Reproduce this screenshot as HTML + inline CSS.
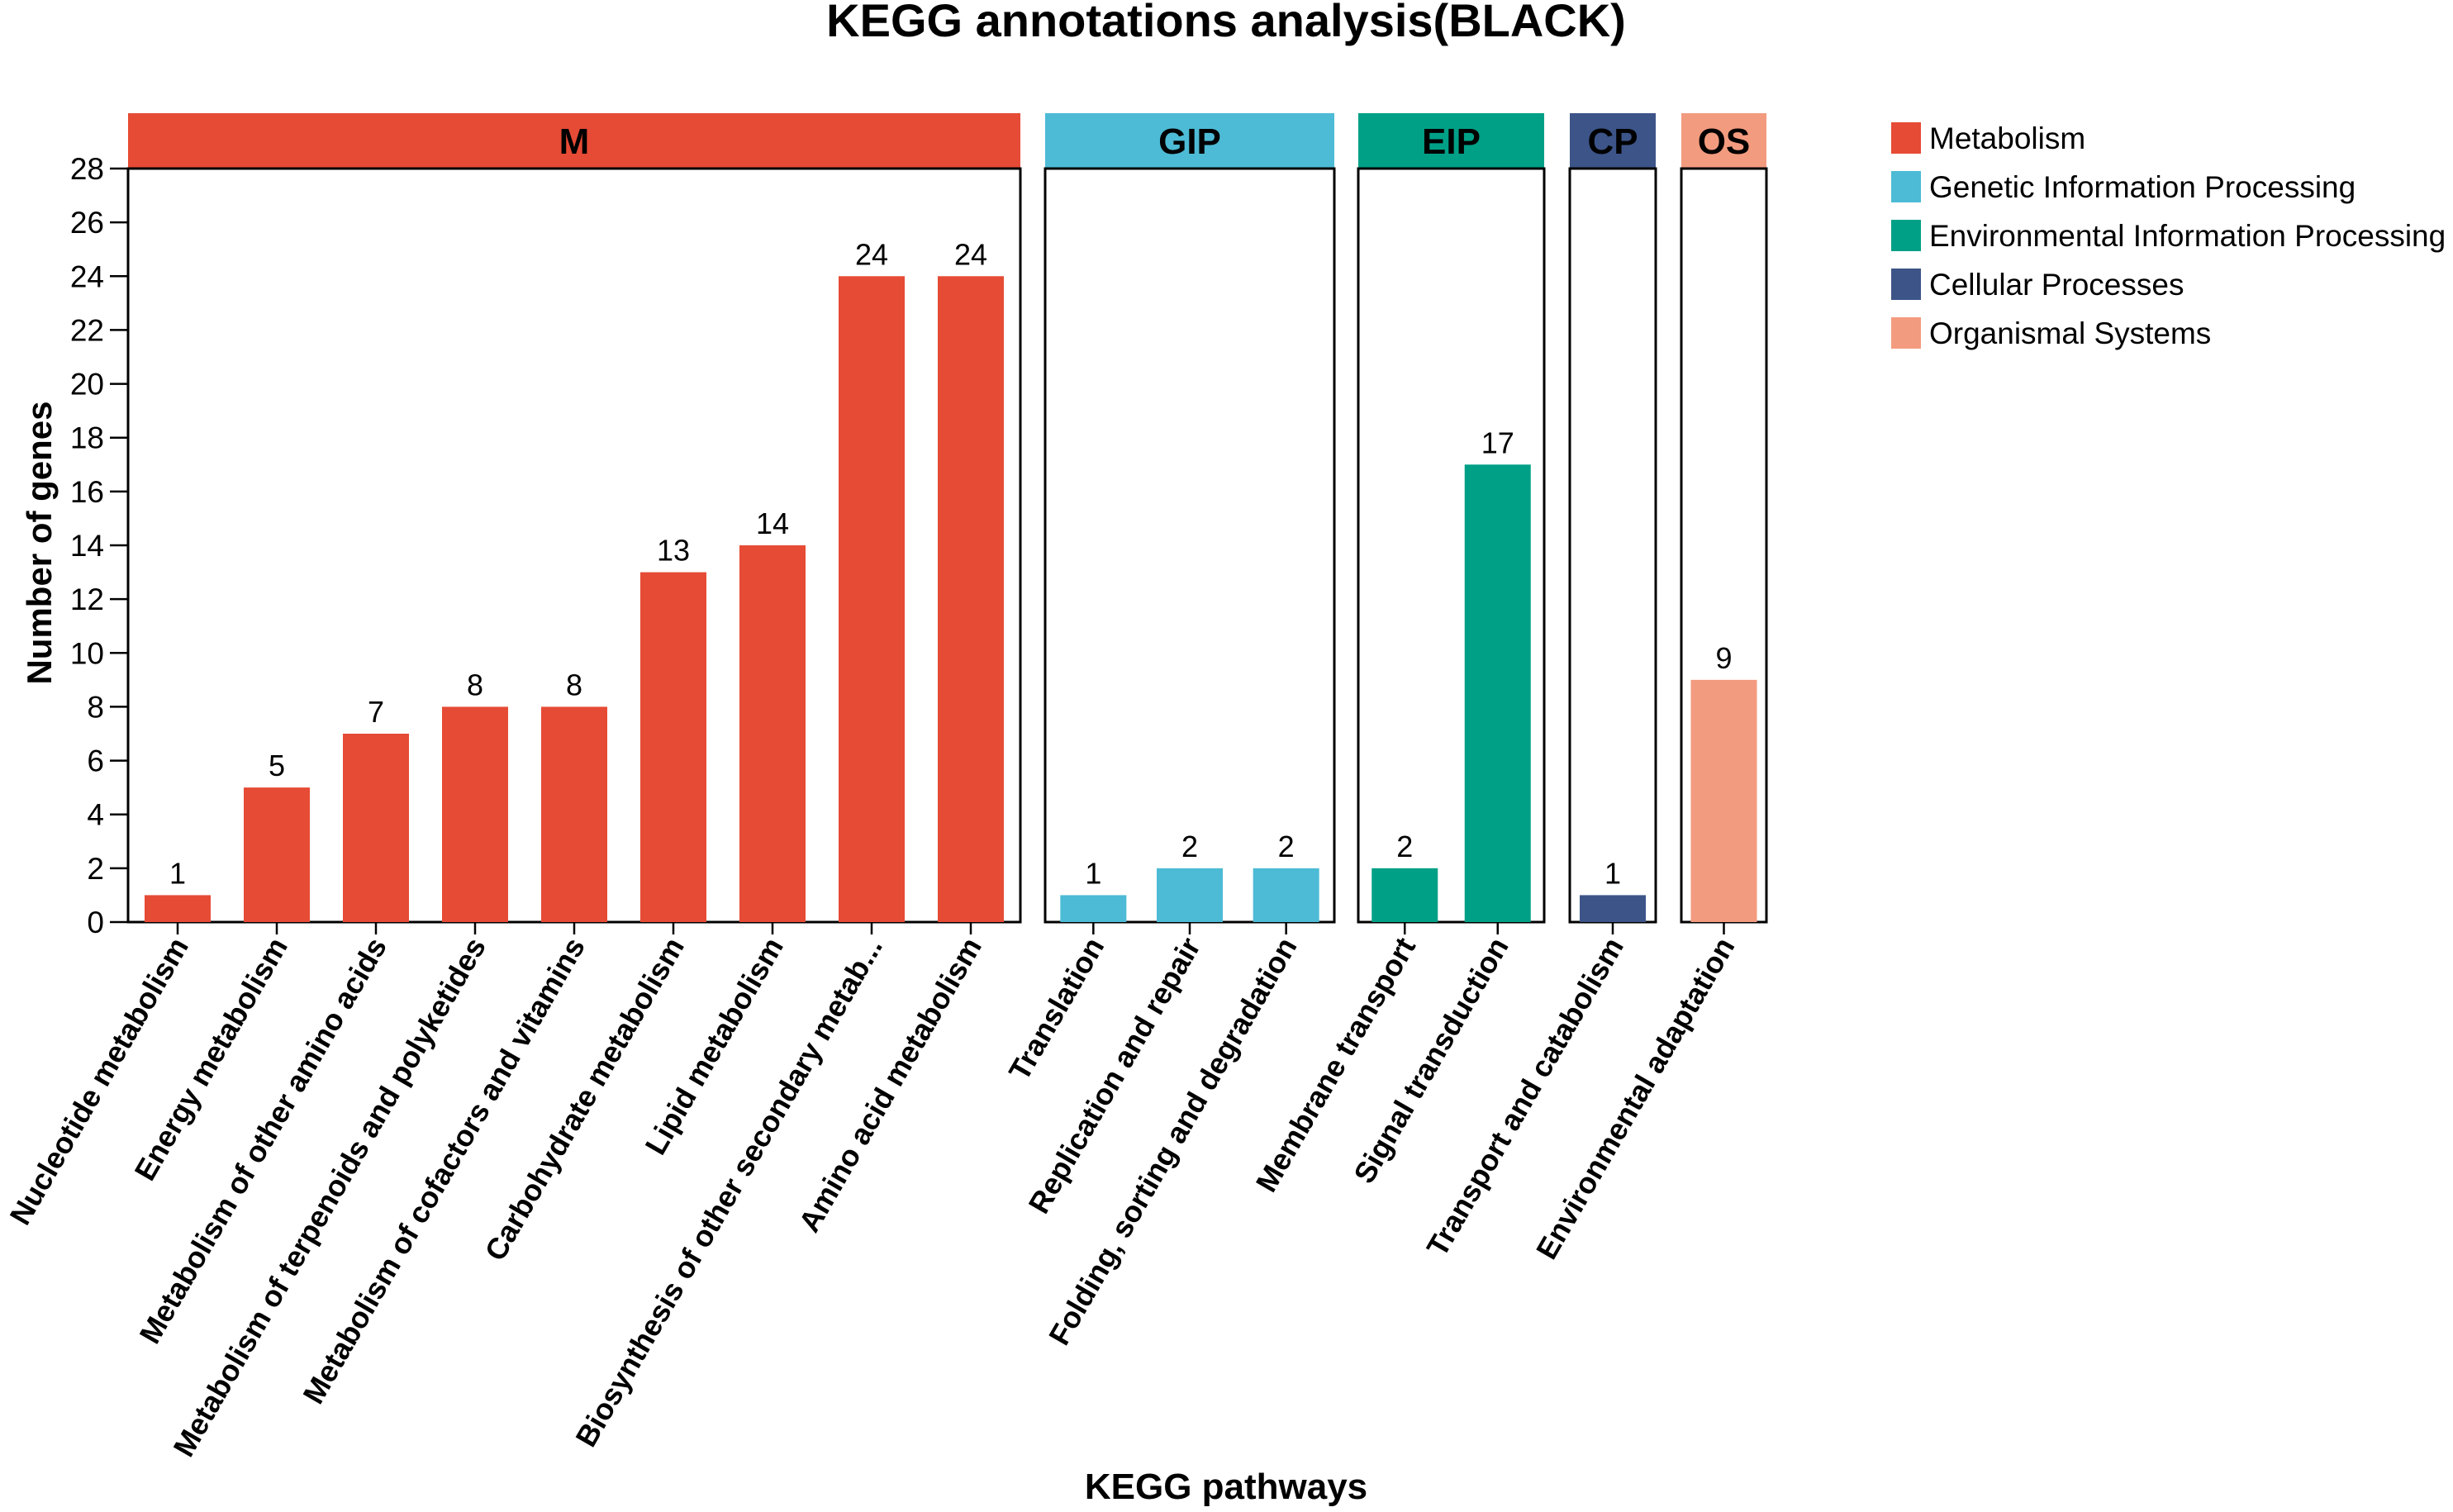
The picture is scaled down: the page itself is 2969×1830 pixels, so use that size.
<!DOCTYPE html>
<html><head><meta charset="utf-8"><style>
html,body{margin:0;padding:0;background:#fff;}
svg{display:block;font-family:"Liberation Sans",Arial,sans-serif;}
</style></head><body>
<svg id="chart" width="2969" height="1830" viewBox="0 0 2969 1830" xmlns="http://www.w3.org/2000/svg">
<text x="1484" y="44" text-anchor="middle" font-size="56" font-weight="bold">KEGG annotations analysis(BLACK)</text>
<text transform="translate(62,657) rotate(-90)" text-anchor="middle" font-size="42" font-weight="bold">Number of genes</text>
<text x="1484" y="1814" text-anchor="middle" font-size="44" font-weight="bold">KEGG pathways</text>
<g id="yaxis"></g>
<g id="panels"></g>
<g id="legend"></g>
</svg>
<script>
const groups = ["M","GIP","EIP","CP","OS"];
const groupNames = ["Metabolism","Genetic Information Processing","Environmental Information Processing","Cellular Processes","Organismal Systems"];
const categories = [
 ["Nucleotide metabolism","Energy metabolism","Metabolism of other amino acids","Metabolism of terpenoids and polyketides","Metabolism of cofactors and vitamins","Carbohydrate metabolism","Lipid metabolism","Biosynthesis of other secondary metab...","Amino acid metabolism"],
 ["Translation","Replication and repair","Folding, sorting and degradation"],
 ["Membrane transport","Signal transduction"],
 ["Transport and catabolism"],
 ["Environmental adaptation"]
];
const values = [
 [1,5,7,8,8,13,14,24,24],
 [1,2,2],
 [2,17],
 [1],
 [9]
];
const yTicks = [0,2,4,6,8,10,12,14,16,18,20,22,24,26,28];

const colors = ["#E64B35","#4DBBD5","#00A087","#3C5488","#F39B7F"];
const panelX = [[155,1235],[1265,1615],[1644,1869],[1900,2004],[2035,2138]];
const NS="http://www.w3.org/2000/svg";
const yTop=204, yBot=1116, yMax=28;
function y(v){return yBot-(v/yMax)*(yBot-yTop);}
function mk(tag,attrs,parent,text){const e=document.createElementNS(NS,tag);for(const k in attrs)e.setAttribute(k,attrs[k]);if(text!==undefined)e.textContent=text;parent.appendChild(e);return e;}

const ya=document.getElementById('yaxis');
yTicks.forEach(t=>{
  const l=mk('line',{x1:133,x2:155,y1:y(t),y2:y(t),stroke:'#000','stroke-width':2.5},ya);
  
  
  const tx=mk('text',{x:126,y:y(t)+13,'text-anchor':'end','font-size':37},ya,String(t));
  
  
});

const pg=document.getElementById('panels');
groups.forEach((g,gi)=>{
  const [x0,x1]=panelX[gi];
  const strip=mk('rect',{x:x0,y:137,width:x1-x0,height:yTop-137,fill:colors[gi]},pg);
  
  
  const st=mk('text',{x:(x0+x1)/2,y:186,'text-anchor':'middle','font-size':44,'font-weight':'bold'},pg,g);
  
  
  const box=mk('rect',{x:x0,y:yTop,width:x1-x0,height:yBot-yTop,fill:'none',stroke:'#000','stroke-width':3},pg);
  
  
  const n=categories[gi].length, slot=(x1-x0)/n;
  categories[gi].forEach((c,i)=>{
    const cx=x0+slot*(i+0.5), v=values[gi][i];
    const b=mk('rect',{x:cx-40,y:y(v),width:80,height:yBot-y(v),fill:colors[gi]},pg);
    
    
    const vl=mk('text',{x:cx,y:y(v)-14,'text-anchor':'middle','font-size':36},pg,String(v));
    
    
    const tk=mk('line',{x1:cx,x2:cx,y1:yBot,y2:yBot+15,stroke:'#000','stroke-width':2.5},pg);
    
    
    const xl=mk('text',{transform:`translate(${cx+14},${yBot+28}) rotate(-60)`,'text-anchor':'end','font-size':36,'font-weight':'bold'},pg,c);
    
    
  });
});

const lg=document.getElementById('legend');
groupNames.forEach((nm,i)=>{
  const yy=148+i*59;
  const sw=mk('rect',{x:2289,y:yy,width:36,height:38,fill:colors[i]},lg);
  
  
  const t=mk('text',{x:2335,y:yy+32,'font-size':37},lg,nm);
  
  
});
</script>
</body></html>
